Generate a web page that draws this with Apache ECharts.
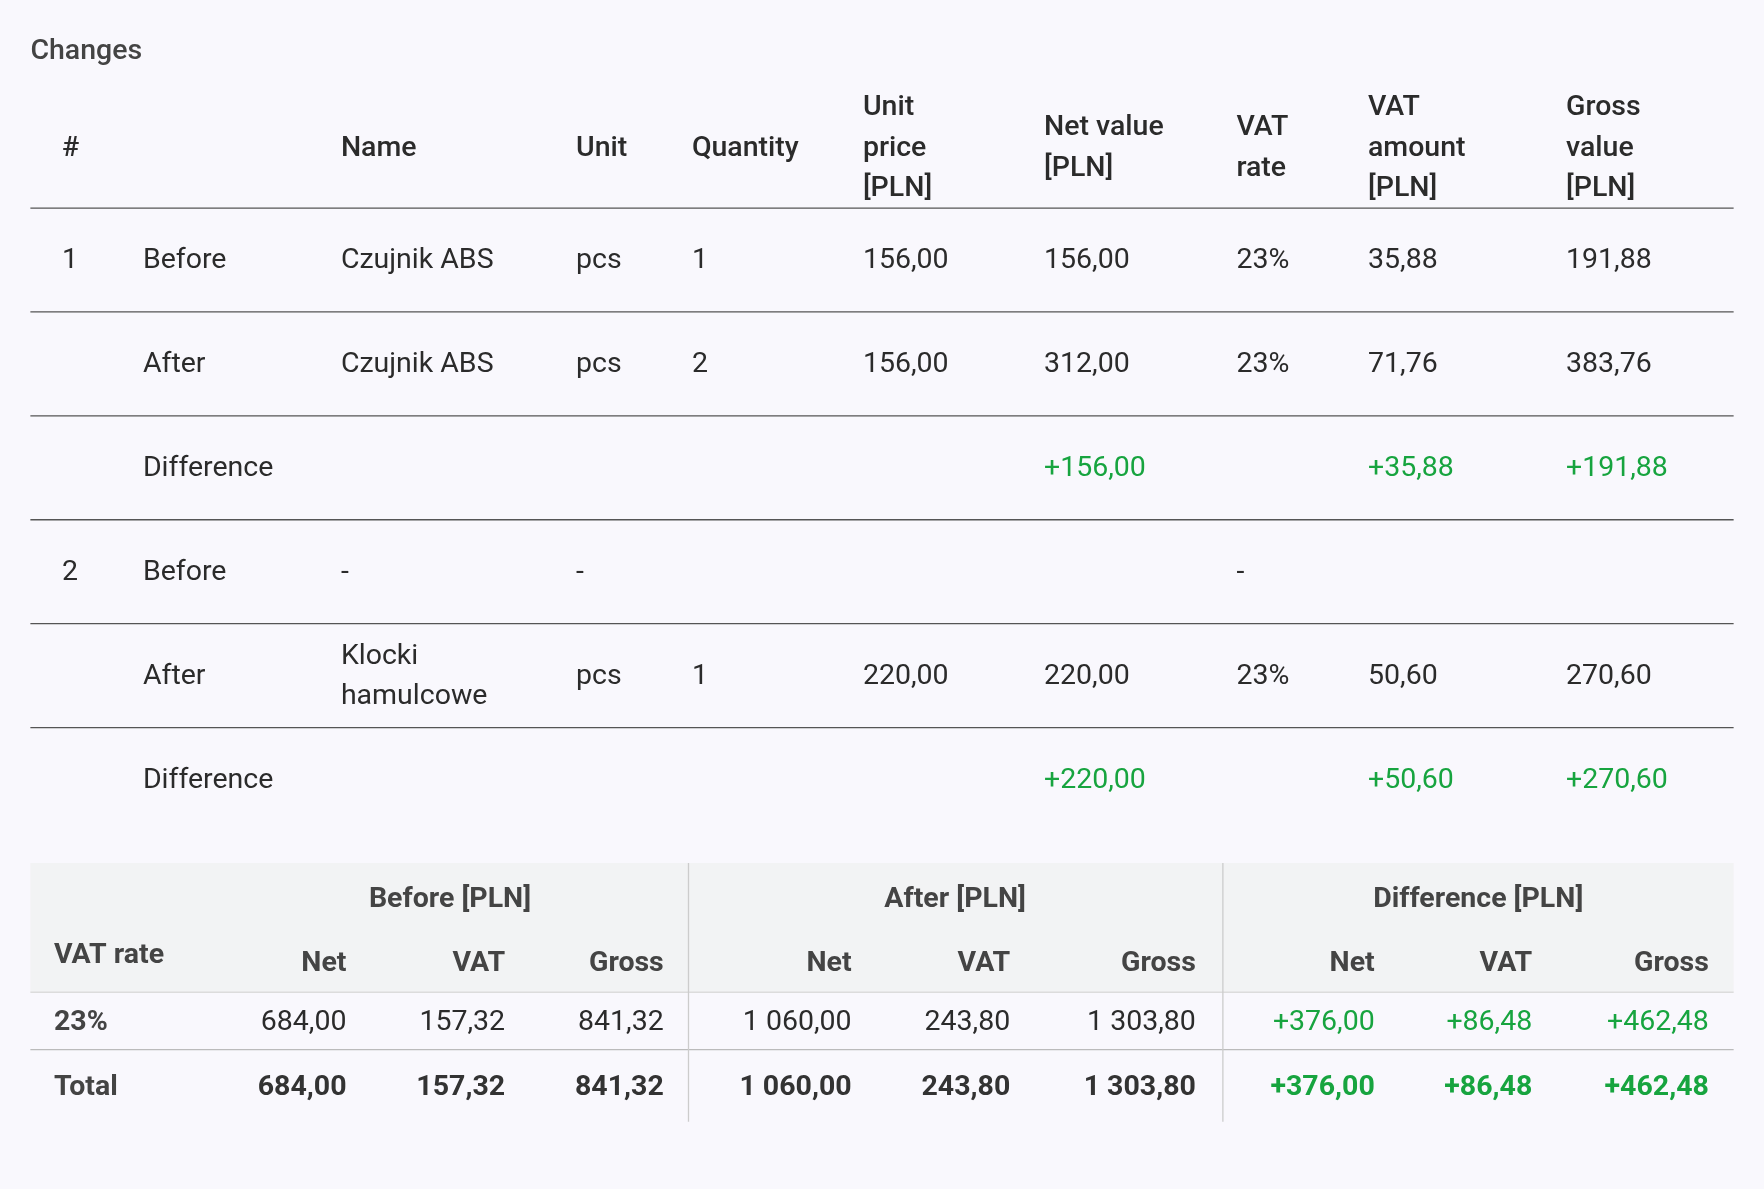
<!DOCTYPE html>
<html><head><meta charset="utf-8">
<script src="https://cdn.jsdelivr.net/npm/echarts@6/dist/echarts.min.js"></script>
<style>html,body{margin:0;padding:0;background:#f9f8fd}#c{width:1764px;height:1189px}</style>
</head><body><div id="c"></div>
<script>
// ---- data ----
const title = 'Changes';
const headers = [['#'], [''], ['Name'], ['Unit'], ['Quantity'], ['Unit', 'price', '[PLN]'], ['Net value', '[PLN]'], ['VAT', 'rate'], ['VAT', 'amount', '[PLN]'], ['Gross', 'value', '[PLN]']];
const rows = [
  ['1', 'Before', 'Czujnik ABS', 'pcs', '1', '156,00', '156,00', '23%', '35,88', '191,88'],
  ['', 'After', 'Czujnik ABS', 'pcs', '2', '156,00', '312,00', '23%', '71,76', '383,76'],
  ['', 'Difference', '', '', '', '', '+156,00', '', '+35,88', '+191,88'],
  ['2', 'Before', '-', '-', '', '', '', '-', '', ''],
  ['', 'After', 'Klocki\nhamulcowe', 'pcs', '1', '220,00', '220,00', '23%', '50,60', '270,60'],
  ['', 'Difference', '', '', '', '', '+220,00', '', '+50,60', '+270,60']
];
const groupHeaders = ['Before [PLN]', 'After [PLN]', 'Difference [PLN]'];
const subHeaders = ['Net', 'VAT', 'Gross', 'Net', 'VAT', 'Gross', 'Net', 'VAT', 'Gross'];
const summaryRows = [
  ['23%', '684,00', '157,32', '841,32', '1 060,00', '243,80', '1 303,80', '+376,00', '+86,48', '+462,48'],
  ['Total', '684,00', '157,32', '841,32', '1 060,00', '243,80', '1 303,80', '+376,00', '+86,48', '+462,48']
];

// ---- layout ----
const k = 1.125;
const F = 'Roboto, "Noto Sans", sans-serif';
const FS = 28.5;
const TXT = '#2b2b2b', GREEN = '#17a43f', LINE = '#555';
const colX = [55, 127, 303, 512, 615, 767, 928, 1099, 1216, 1392];
const L = 27, R = 1541;
const g = [];
function text(x, y, s, o) {
  o = o || {};
  g.push({type: 'text', x: x * k, y: y * k, silent: true, style: {text: s, fill: o.fill || TXT,
    font: (o.weight || 'normal') + ' ' + (o.size || FS) + 'px ' + F,
    textAlign: o.align || 'left', textVerticalAlign: 'middle', lineHeight: o.lh || 40.5}});
}
function line(x1, y1, x2, y2, c, w) {
  g.push({type: 'line', silent: true, shape: {x1: x1 * k, y1: y1 * k, x2: x2 * k, y2: y2 * k}, style: {stroke: c || LINE, lineWidth: w || 1.3}});
}
text(L, 46, title, {weight: 500, fill: '#444'});
headers.forEach((h, i) => text(colX[i], 132, h.join('\n'), {weight: 500}));
line(L, 185, R, 185);
rows.forEach((r, ri) => {
  const y = 232 + ri * 92.4;
  r.forEach((v, ci) => { if (v) text(colX[ci], y, v, {fill: v[0] === '+' ? GREEN : TXT}); });
  if (ri < rows.length - 1) line(L, y - 1 + 46.2, R, y - 1 + 46.2);
});
// summary
g.push({type: 'rect', silent: true, shape: {x: L * k, y: 767 * k, width: (R - L) * k, height: 115 * k}, style: {fill: '#f2f3f4'}});
line(L, 882, R, 882, '#dcdcdc');
line(L, 933, R, 933, '#bbb');
[612, 1087].forEach(x => line(x, 767, x, 997, '#ccc'));
const grpC = [400, 849, 1314];
groupHeaders.forEach((h, i) => text(grpC[i], 800, h, {weight: 'bold', align: 'center', fill: '#444'}));
text(48, 850, 'VAT rate', {weight: 'bold', fill: '#444'});
const subR = [308, 449, 590, 757, 898, 1063, 1222, 1362, 1519];
subHeaders.forEach((h, i) => text(subR[i], 857, h, {weight: 'bold', align: 'right', fill: '#444'}));
summaryRows.forEach((r, ri) => {
  const y = ri === 0 ? 909 : 967;
  const w = ri === 0 ? 'normal' : 'bold';
  text(48, y, r[0], {weight: 'bold', fill: '#444'});
  r.slice(1).forEach((v, i) => text(subR[i], y, v, {weight: w, align: 'right', fill: v[0] === '+' ? GREEN : (ri ? '#333' : TXT)}));
});
const chart = echarts.init(document.getElementById('c'));
chart.setOption({backgroundColor: '#f9f8fd', animation: false, graphic: {elements: g}});
</script></body></html>
